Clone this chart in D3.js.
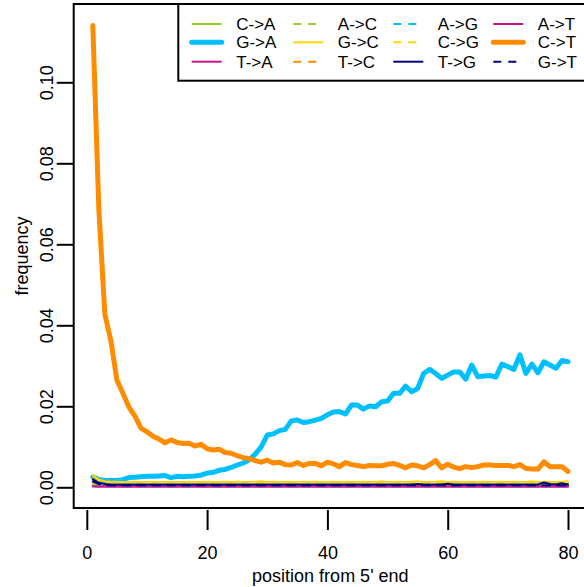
<!DOCTYPE html>
<html><head><meta charset="utf-8">
<script src="https://cdn.jsdelivr.net/npm/d3@7"></script>
<style>body{margin:0;background:#fff}svg{display:block}text{font-family:"Liberation Sans",Arial,sans-serif}</style>
</head><body><svg id="c" width="584" height="587"></svg>
<script>
const positions = d3.range(1, 81);
const xTicks = [0, 20, 40, 60, 80];
const yTicks = [0, 0.02, 0.04, 0.06, 0.08, 0.10];
const yTickLabels = ["0.00", "0.02", "0.04", "0.06", "0.08", "0.10"];

const CtoT = [0.114,0.0687,0.0428,0.0362,0.0265,0.0232,0.0198,0.0176,0.0146,0.0137,
0.0126,0.0119,0.0110,0.0117,0.0111,0.0108,0.0109,0.0102,0.0106,0.0095,
0.0092,0.0094,0.0086,0.0084,0.0078,0.0073,0.0071,0.0066,0.0062,0.0067,
0.0060,0.0062,0.0056,0.0055,0.0061,0.0054,0.0059,0.0059,0.0053,0.0062,
0.0058,0.0051,0.0061,0.0056,0.0054,0.0051,0.0054,0.0053,0.0053,0.0057,
0.0059,0.0054,0.0048,0.0055,0.0053,0.0048,0.0056,0.0066,0.0048,0.0057,
0.0050,0.0046,0.0051,0.0049,0.0051,0.0055,0.0055,0.0054,0.0054,0.0054,
0.0051,0.0056,0.0047,0.0045,0.0045,0.0063,0.0051,0.0051,0.0051,0.0039];
const GtoA = [0.0026,0.0019,0.0017,0.0017,0.0017,0.0019,0.0024,0.0025,0.0026,0.0027,
0.0027,0.0028,0.0029,0.0024,0.0027,0.0026,0.0027,0.0028,0.0030,0.0035,
0.0037,0.0042,0.0044,0.0049,0.0055,0.0060,0.0068,0.0082,0.0100,0.0129,
0.0132,0.0140,0.0143,0.0164,0.0166,0.0160,0.0162,0.0166,0.0170,0.0179,
0.0186,0.0187,0.0181,0.0203,0.0203,0.0193,0.0201,0.0199,0.0211,0.0213,
0.0232,0.0232,0.0250,0.0236,0.0244,0.0281,0.0291,0.0281,0.0269,0.0277,
0.0285,0.0285,0.0267,0.0302,0.0273,0.0275,0.0276,0.0272,0.0304,0.0298,
0.0291,0.0327,0.0281,0.0304,0.0283,0.0310,0.0302,0.0294,0.0313,0.0310];
const GtoC = [0.0030,0.0019,0.0015,0.0014,0.0014,0.0013,0.0013,0.0014,0.0013,0.0013,
0.0014,0.0013,0.0013,0.0014,0.0013,0.0013,0.0014,0.0013,0.0013,0.0014,
0.0013,0.0013,0.0014,0.0013,0.0014,0.0013,0.0013,0.0014,0.0015,0.0013,
0.0014,0.0013,0.0014,0.0013,0.0013,0.0014,0.0013,0.0014,0.0013,0.0013,
0.0014,0.0013,0.0014,0.0013,0.0013,0.0014,0.0013,0.0013,0.0015,0.0013,
0.0013,0.0014,0.0013,0.0014,0.0015,0.0013,0.0013,0.0014,0.0015,0.0013,
0.0014,0.0013,0.0013,0.0014,0.0013,0.0014,0.0013,0.0013,0.0014,0.0013,
0.0014,0.0013,0.0013,0.0015,0.0013,0.0014,0.0013,0.0013,0.0014,0.0015];
const CtoG = [0.0022,0.0014,0.0012,0.0012,0.0011,0.0012,0.0011,0.0012,0.0011,0.0012,
0.0011,0.0012,0.0011,0.0011,0.0012,0.0011,0.0012,0.0011,0.0011,0.0012,
0.0011,0.0012,0.0011,0.0012,0.0011,0.0011,0.0012,0.0011,0.0012,0.0011,
0.0012,0.0011,0.0011,0.0012,0.0011,0.0012,0.0011,0.0011,0.0012,0.0011,
0.0012,0.0011,0.0012,0.0011,0.0011,0.0012,0.0011,0.0012,0.0011,0.0011,
0.0012,0.0011,0.0012,0.0011,0.0012,0.0011,0.0011,0.0012,0.0011,0.0012,
0.0011,0.0011,0.0012,0.0011,0.0012,0.0011,0.0011,0.0012,0.0011,0.0012,
0.0011,0.0012,0.0011,0.0011,0.0012,0.0011,0.0012,0.0011,0.0011,0.0012];
const TtoG = [0.0020,0.0011,0.0008,0.0007,0.0007,0.0007,0.0007,0.0007,0.0007,0.0007,
0.0007,0.0007,0.0007,0.0007,0.0007,0.0007,0.0007,0.0007,0.0007,0.0007,
0.0007,0.0007,0.0007,0.0007,0.0007,0.0007,0.0007,0.0007,0.0007,0.0007,
0.0007,0.0007,0.0007,0.0007,0.0007,0.0007,0.0007,0.0007,0.0007,0.0007,
0.0007,0.0007,0.0007,0.0007,0.0007,0.0007,0.0007,0.0007,0.0007,0.0007,
0.0007,0.0007,0.0007,0.0007,0.0008,0.0007,0.0007,0.0007,0.0007,0.0009,
0.0007,0.0007,0.0007,0.0007,0.0007,0.0007,0.0007,0.0007,0.0007,0.0007,
0.0007,0.0007,0.0007,0.0007,0.0007,0.0012,0.0008,0.0007,0.0010,0.0007];
const GtoT = [0.0015,0.0008,0.0006,0.0005,0.0005,0.0005,0.0005,0.0005,0.0005,0.0005,
0.0005,0.0005,0.0005,0.0005,0.0005,0.0005,0.0005,0.0005,0.0005,0.0005,
0.0005,0.0005,0.0005,0.0005,0.0005,0.0005,0.0005,0.0005,0.0005,0.0005,
0.0005,0.0005,0.0005,0.0005,0.0005,0.0005,0.0005,0.0005,0.0005,0.0005,
0.0005,0.0005,0.0005,0.0005,0.0005,0.0005,0.0005,0.0005,0.0005,0.0005,
0.0005,0.0005,0.0005,0.0005,0.0005,0.0005,0.0005,0.0005,0.0005,0.0005,
0.0005,0.0005,0.0005,0.0005,0.0005,0.0005,0.0005,0.0005,0.0005,0.0005,
0.0005,0.0005,0.0005,0.0005,0.0005,0.0005,0.0005,0.0005,0.0005,0.0005];
const CtoA = [0.0012,0.0005,0.0004,0.0004,0.0004,0.0004,0.0004,0.0004,0.0004,0.0004,
0.0004,0.0004,0.0004,0.0004,0.0004,0.0004,0.0004,0.0004,0.0004,0.0004,
0.0004,0.0004,0.0004,0.0004,0.0004,0.0004,0.0004,0.0004,0.0004,0.0004,
0.0004,0.0004,0.0004,0.0004,0.0004,0.0004,0.0004,0.0004,0.0004,0.0004,
0.0004,0.0004,0.0004,0.0004,0.0004,0.0004,0.0004,0.0004,0.0004,0.0004,
0.0004,0.0004,0.0004,0.0004,0.0004,0.0004,0.0004,0.0004,0.0004,0.0004,
0.0004,0.0004,0.0004,0.0004,0.0004,0.0004,0.0004,0.0004,0.0004,0.0004,
0.0004,0.0004,0.0004,0.0004,0.0004,0.0004,0.0004,0.0004,0.0004,0.0004];
const AtoC = [0.0006,0.0004,0.0004,0.0004,0.0004,0.0004,0.0004,0.0004,0.0004,0.0004,
0.0004,0.0004,0.0004,0.0004,0.0004,0.0004,0.0004,0.0004,0.0004,0.0004,
0.0004,0.0004,0.0004,0.0004,0.0004,0.0004,0.0004,0.0004,0.0004,0.0004,
0.0004,0.0004,0.0004,0.0004,0.0004,0.0004,0.0004,0.0004,0.0004,0.0004,
0.0004,0.0004,0.0004,0.0004,0.0004,0.0004,0.0004,0.0004,0.0004,0.0004,
0.0004,0.0004,0.0004,0.0004,0.0004,0.0004,0.0004,0.0004,0.0012,0.0004,
0.0004,0.0004,0.0004,0.0004,0.0004,0.0004,0.0004,0.0004,0.0012,0.0004,
0.0004,0.0004,0.0004,0.0004,0.0004,0.0004,0.0004,0.0012,0.0004,0.0010];
const AtoG = [0.0003,0.0002,0.0002,0.0002,0.0002,0.0002,0.0002,0.0002,0.0002,0.0002,
0.0002,0.0002,0.0002,0.0002,0.0002,0.0002,0.0002,0.0002,0.0002,0.0002,
0.0002,0.0002,0.0002,0.0002,0.0002,0.0002,0.0002,0.0002,0.0002,0.0002,
0.0002,0.0002,0.0002,0.0002,0.0002,0.0002,0.0002,0.0002,0.0002,0.0002,
0.0002,0.0002,0.0002,0.0002,0.0002,0.0002,0.0002,0.0002,0.0002,0.0002,
0.0002,0.0002,0.0002,0.0002,0.0002,0.0002,0.0002,0.0002,0.0002,0.0002,
0.0002,0.0002,0.0002,0.0002,0.0002,0.0002,0.0002,0.0002,0.0002,0.0002,
0.0002,0.0002,0.0002,0.0002,0.0002,0.0002,0.0002,0.0002,0.0002,0.0002];
const TtoC = [0.0005,0.0004,0.0003,0.0003,0.0003,0.0003,0.0003,0.0003,0.0003,0.0003,
0.0003,0.0003,0.0003,0.0003,0.0003,0.0003,0.0003,0.0003,0.0003,0.0003,
0.0003,0.0003,0.0003,0.0003,0.0003,0.0003,0.0003,0.0003,0.0003,0.0003,
0.0003,0.0003,0.0003,0.0003,0.0003,0.0003,0.0003,0.0003,0.0003,0.0003,
0.0003,0.0003,0.0003,0.0003,0.0003,0.0003,0.0003,0.0003,0.0003,0.0003,
0.0003,0.0003,0.0003,0.0003,0.0003,0.0003,0.0003,0.0003,0.0003,0.0003,
0.0003,0.0003,0.0003,0.0003,0.0003,0.0003,0.0003,0.0003,0.0003,0.0003,
0.0003,0.0003,0.0003,0.0003,0.0003,0.0003,0.0003,0.0003,0.0003,0.0003];
const AtoT = [0.0002,0.0002,0.0002,0.0002,0.0002,0.0002,0.0002,0.0002,0.0002,0.0002,
0.0002,0.0002,0.0002,0.0002,0.0002,0.0002,0.0002,0.0002,0.0002,0.0002,
0.0002,0.0002,0.0002,0.0002,0.0002,0.0002,0.0002,0.0002,0.0002,0.0002,
0.0002,0.0002,0.0002,0.0002,0.0002,0.0002,0.0002,0.0002,0.0002,0.0002,
0.0002,0.0002,0.0002,0.0002,0.0002,0.0002,0.0002,0.0002,0.0002,0.0002,
0.0002,0.0002,0.0002,0.0002,0.0002,0.0002,0.0002,0.0002,0.0002,0.0002,
0.0002,0.0002,0.0002,0.0002,0.0002,0.0002,0.0002,0.0002,0.0002,0.0002,
0.0002,0.0002,0.0002,0.0002,0.0002,0.0002,0.0002,0.0002,0.0002,0.0002];
const TtoA = [0.0003,0.0002,0.0002,0.0002,0.0002,0.0002,0.0002,0.0002,0.0002,0.0002,
0.0002,0.0002,0.0002,0.0002,0.0002,0.0002,0.0002,0.0002,0.0002,0.0002,
0.0002,0.0002,0.0002,0.0002,0.0002,0.0002,0.0002,0.0002,0.0002,0.0002,
0.0002,0.0002,0.0002,0.0002,0.0002,0.0002,0.0002,0.0002,0.0002,0.0002,
0.0002,0.0002,0.0002,0.0002,0.0002,0.0002,0.0002,0.0002,0.0002,0.0002,
0.0002,0.0002,0.0002,0.0002,0.0002,0.0002,0.0002,0.0002,0.0002,0.0002,
0.0002,0.0002,0.0002,0.0002,0.0002,0.0002,0.0002,0.0002,0.0002,0.0002,
0.0002,0.0002,0.0002,0.0002,0.0002,0.0002,0.0002,0.0002,0.0002,0.0002];

// legend order (column-wise, 3 rows x 4 columns)
const seriesNames = ["C->A","G->A","T->A","A->C","G->C","T->C","A->G","C->G","T->G","A->T","C->T","G->T"];
const seriesValues = [CtoA,GtoA,TtoA,AtoC,GtoC,TtoC,AtoG,CtoG,TtoG,AtoT,CtoT,GtoT];
const seriesColors = ["#9ACD32","#00BFFF","#C71585","#9ACD32","#FFD700","#FF8C00","#00BFFF","#FFD700","#000080","#C71585","#FF8C00","#000080"];
const seriesDashed = [false,false,false,true,false,true,true,true,false,false,false,true];
const seriesThick = [false,true,false,false,false,false,false,false,false,false,true,false];
const drawOrder = [1,10,0,2,3,5,6,9,11,4,7,8];

const svg = d3.select("#c");
const box = {l: 73.7, r: 587, t: 4, b: 508};
const x = d3.scaleLinear().domain([0, 80]).range([86.8, 568]);
const y = d3.scaleLinear().domain([0, 0.10]).range([487.3, 82.3]);

const line = d3.line().x((d, i) => x(positions[i])).y(d => y(d));

svg.append("defs").append("clipPath").attr("id","clip").append("rect")
  .attr("x", box.l).attr("y", box.t).attr("width", box.r - box.l).attr("height", box.b - box.t);

const g = svg.append("g").attr("clip-path","url(#clip)");
drawOrder.forEach(k => {
  g.append("path").datum(seriesValues[k])
    .attr("d", line)
    .attr("fill","none")
    .attr("stroke", seriesColors[k])
    .attr("stroke-width", seriesThick[k] ? 5 : 2)
    .attr("stroke-linejoin","round")
    .attr("stroke-linecap","round")
    .attr("stroke-dasharray", seriesDashed[k] ? "8,7" : null);
});

svg.append("rect").attr("x", box.l).attr("y", box.t).attr("width", box.r - box.l).attr("height", box.b - box.t)
  .attr("fill","none").attr("stroke","#000").attr("stroke-width",2);

const xAxis = d3.axisBottom(x).tickValues(xTicks).tickSize(20).tickPadding(16).tickFormat(d3.format("d"));
const xg = svg.append("g").attr("transform", `translate(0,${box.b + 2})`).call(xAxis);
xg.select(".domain").remove();
xg.selectAll(".tick line").attr("stroke","#000").attr("stroke-width",2);
xg.selectAll(".tick text").attr("font-size",18).attr("fill","#000").attr("font-family","Liberation Sans, Arial, sans-serif");

const yAxis = d3.axisLeft(y).tickValues(yTicks).tickSize(17).tickPadding(0).tickFormat((d,i) => yTickLabels[i]);
const yg = svg.append("g").attr("transform", `translate(${box.l},0)`).call(yAxis);
yg.select(".domain").remove();
yg.selectAll(".tick line").attr("stroke","#000").attr("stroke-width",2);
yg.selectAll(".tick text").attr("font-size",18).attr("fill","#000")
  .attr("font-family","Liberation Sans, Arial, sans-serif")
  .attr("x", null).attr("dy", null)
  .attr("text-anchor","middle")
  .attr("transform","translate(-21,0) rotate(-90)");

svg.append("text").attr("x", (box.l + box.r) / 2).attr("y", 582).attr("text-anchor","middle")
  .attr("font-size",18).text("position from 5' end");
svg.append("text").attr("transform", `translate(28,${(box.t + box.b) / 2}) rotate(-90)`).attr("text-anchor","middle")
  .attr("font-size",18).text("frequency");

const lg = svg.append("g");
lg.append("rect").attr("x",178.3).attr("y",box.t).attr("width", box.r - 178.3).attr("height", 80.7 - box.t)
  .attr("fill","#fff").attr("stroke","#000").attr("stroke-width",2);
const colX = [191.7, 293.3, 393.3, 493.3];
const rowY = [24, 42.3, 61.7];
seriesNames.forEach((name, k) => {
  const c = Math.floor(k / 3), r = k % 3;
  lg.append("line").attr("x1", colX[c]).attr("x2", colX[c] + 30).attr("y1", rowY[r]).attr("y2", rowY[r])
    .attr("stroke", seriesColors[k]).attr("stroke-width", seriesThick[k] ? 5 : 2)
    .attr("stroke-linecap", seriesThick[k] ? "round" : "butt")
    .attr("stroke-dasharray", seriesDashed[k] ? "8,7" : null);
  lg.append("text").attr("x", colX[c] + 44.5).attr("y", rowY[r]).attr("dy","0.35em")
    .attr("font-size",17).text(name);
});
</script></body></html>
